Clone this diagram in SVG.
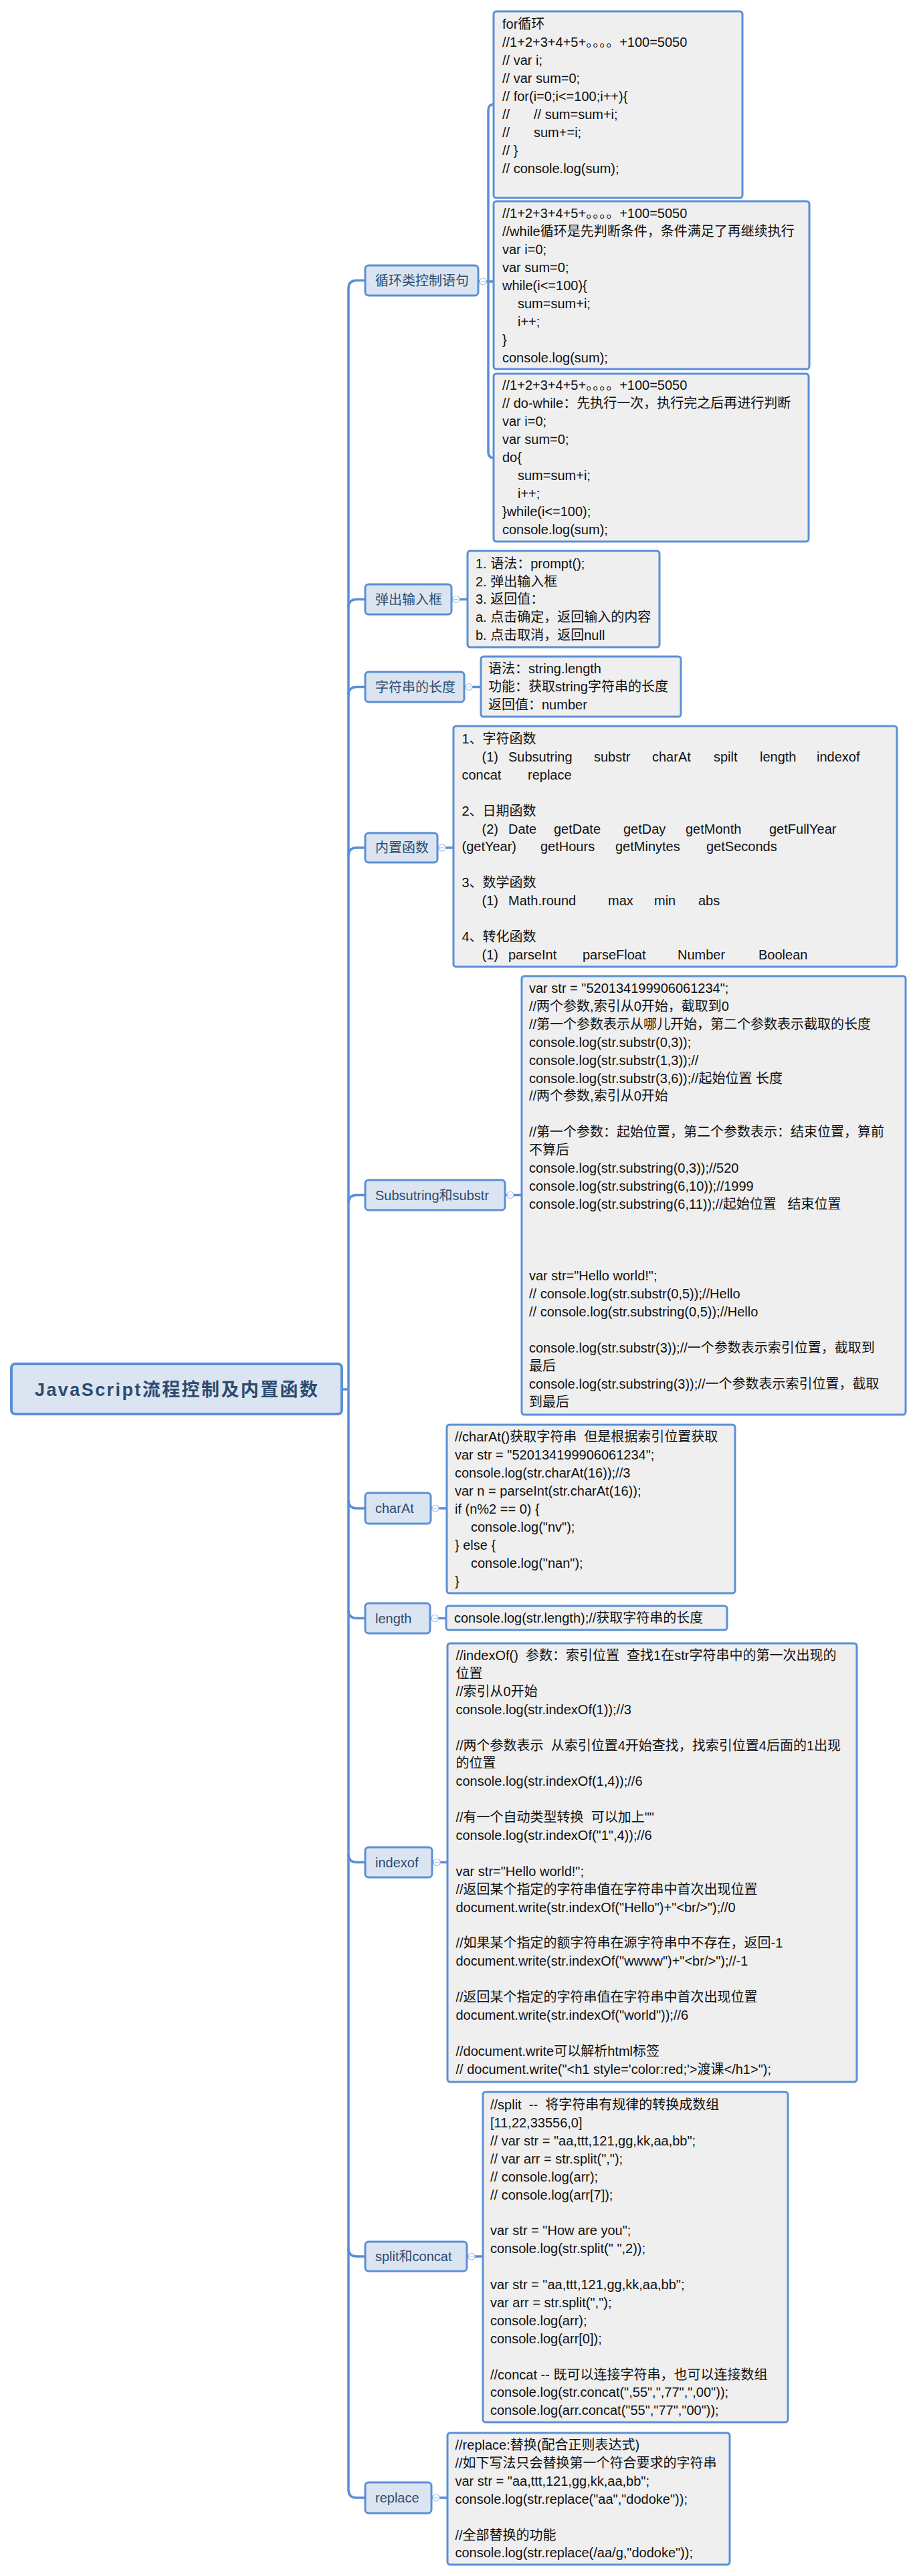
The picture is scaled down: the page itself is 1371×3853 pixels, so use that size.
<svg xmlns="http://www.w3.org/2000/svg" width="1371" height="3853" viewBox="0 0 1371 3853">
<style>
.bg{fill:#ffffff}
.box{fill:#efefef;stroke:#5b8fd6;stroke-width:3}
.nd{fill:#dbe5f1;stroke:#5b8fd6;stroke-width:3}
.root{fill:#dbe5f1;stroke:#5b8fd6;stroke-width:4}
.t{font-family:"Liberation Sans","Noto Sans CJK SC",sans-serif;font-size:20px;fill:#111111}
.nt{font-family:"Liberation Sans","Noto Sans CJK SC",sans-serif;font-size:20px;fill:#2d4b70}
.rt{font-family:"Liberation Sans","Noto Sans CJK SC",sans-serif;font-size:27px;font-weight:bold;fill:#2d4b70}
.conn{fill:none;stroke:#5b8fd6;stroke-width:3.5}
.col{fill:#ffffff;stroke:#a9c1e6;stroke-width:1.2}
.colm{stroke:#a9c1e6;stroke-width:1.2}
</style>
<rect class="bg" x="0" y="0" width="1371" height="3853"/>

<g id="connectors">
<path class="conn" d="M546,419.5 L533,419.5 Q521,419.5 521,431.5 L521,3724 Q521,3736 533,3736 L546,3736"/>
<path class="conn" d="M521,908.5 Q521,896.5 533,896.5 L546,896.5"/>
<path class="conn" d="M521,1039.5 Q521,1027.5 533,1027.5 L546,1027.5"/>
<path class="conn" d="M521,1280 Q521,1268 533,1268 L546,1268"/>
<path class="conn" d="M521,1799.5 Q521,1787.5 533,1787.5 L546,1787.5"/>
<path class="conn" d="M511,2078 L521,2078"/>
<path class="conn" d="M521,2244 Q521,2256 533,2256 L546,2256"/>
<path class="conn" d="M521,2408.5 Q521,2420.5 533,2420.5 L546,2420.5"/>
<path class="conn" d="M521,2773.5 Q521,2785.5 533,2785.5 L546,2785.5"/>
<path class="conn" d="M521,3363 Q521,3375 533,3375 L546,3375"/>
<path class="conn" d="M715,421 L738,421"/>
<path class="conn" d="M740,156 L738,156 Q730,156 730,166 L730,675 Q730,685 738,685 L740,685"/>
<path class="conn" d="M675,896.5 L699,896.5"/>
<path class="conn" d="M694,1027.5 L719,1027.5"/>
<path class="conn" d="M654,1268 L678,1268"/>
<path class="conn" d="M755,1787.5 L780,1787.5"/>
<path class="conn" d="M644,2256 L668,2256"/>
<path class="conn" d="M643,2420.5 L667,2420.5"/>
<path class="conn" d="M646,2785.5 L669,2785.5"/>
<path class="conn" d="M698,3375 L722,3375"/>
<path class="conn" d="M645,3736 L669,3736"/>
<g id="collapse-markers">
<circle class="col" cx="722" cy="421" r="5"/><line class="colm" x1="719" y1="421" x2="725" y2="421"/>
<circle class="col" cx="682" cy="896.5" r="5"/><line class="colm" x1="679" y1="896.5" x2="685" y2="896.5"/>
<circle class="col" cx="701" cy="1027.5" r="5"/><line class="colm" x1="698" y1="1027.5" x2="704" y2="1027.5"/>
<circle class="col" cx="661" cy="1268" r="5"/><line class="colm" x1="658" y1="1268" x2="664" y2="1268"/>
<circle class="col" cx="763" cy="1787.5" r="5"/><line class="colm" x1="760" y1="1787.5" x2="766" y2="1787.5"/>
<circle class="col" cx="651" cy="2256" r="5"/><line class="colm" x1="648" y1="2256" x2="654" y2="2256"/>
<circle class="col" cx="650" cy="2420.5" r="5"/><line class="colm" x1="647" y1="2420.5" x2="653" y2="2420.5"/>
<circle class="col" cx="653" cy="2785.5" r="5"/><line class="colm" x1="650" y1="2785.5" x2="656" y2="2785.5"/>
<circle class="col" cx="705" cy="3375" r="5"/><line class="colm" x1="702" y1="3375" x2="708" y2="3375"/>
<circle class="col" cx="652" cy="3736" r="5"/><line class="colm" x1="649" y1="3736" x2="655" y2="3736"/>
</g>
</g>

<g id="root">
<rect class="root" x="17" y="2040" width="494" height="75" rx="6"/>
<text class="rt" x="52" y="2088" textLength="423" lengthAdjust="spacing">JavaScript流程控制及内置函数</text>
</g>

<g id="node-loop">
<rect class="nd" x="546" y="397" width="169" height="45" rx="5"/>
<text class="nt" x="561" y="426.5">循环类控制语句</text>
</g>
<g id="box-for">
<rect class="box" x="738" y="17" width="372" height="279" rx="4"/>
<text class="t" xml:space="preserve"><tspan x="751" y="43">for循环</tspan><tspan x="751" y="70">//1+2+3+4+5+。。。。+100=5050</tspan><tspan x="751" y="97">// var i;</tspan><tspan x="751" y="124">// var sum=0;</tspan><tspan x="751" y="151">// for(i=0;i&lt;=100;i++){</tspan><tspan x="751" y="178">//</tspan><tspan x="798" y="178">// sum=sum+i;</tspan><tspan x="751" y="205">//</tspan><tspan x="798" y="205">sum+=i;</tspan><tspan x="751" y="232">// }</tspan><tspan x="751" y="259">// console.log(sum);</tspan></text>
</g>
<g id="box-while">
<rect class="box" x="738" y="301" width="472" height="251" rx="4"/>
<text class="t" xml:space="preserve"><tspan x="751" y="326">//1+2+3+4+5+。。。。+100=5050</tspan><tspan x="751" y="353">//while循环是先判断条件，条件满足了再继续执行</tspan><tspan x="751" y="380">var i=0;</tspan><tspan x="751" y="407">var sum=0;</tspan><tspan x="751" y="434">while(i&lt;=100){</tspan><tspan x="774" y="461">sum=sum+i;</tspan><tspan x="774" y="488">i++;</tspan><tspan x="751" y="515">}</tspan><tspan x="751" y="542">console.log(sum);</tspan></text>
</g>
<g id="box-dowhile">
<rect class="box" x="738" y="559" width="471" height="251" rx="4"/>
<text class="t" xml:space="preserve"><tspan x="751" y="582.5">//1+2+3+4+5+。。。。+100=5050</tspan><tspan x="751" y="609.5">// do-while：先执行一次，执行完之后再进行判断</tspan><tspan x="751" y="636.5">var i=0;</tspan><tspan x="751" y="663.5">var sum=0;</tspan><tspan x="751" y="690.5">do{</tspan><tspan x="774" y="717.5">sum=sum+i;</tspan><tspan x="774" y="744.5">i++;</tspan><tspan x="751" y="771.5">}while(i&lt;=100);</tspan><tspan x="751" y="798.5">console.log(sum);</tspan></text>
</g>

<g id="node-prompt">
<rect class="nd" x="546" y="874" width="129" height="45" rx="5"/>
<text class="nt" x="561" y="903.5">弹出输入框</text>
</g>
<g id="box-prompt">
<rect class="box" x="699" y="824" width="287" height="144" rx="4"/>
<text class="t"><tspan x="711" y="850">1. 语法：prompt();</tspan><tspan x="711" y="877">2. 弹出输入框</tspan><tspan x="711" y="903">3. 返回值：</tspan><tspan x="711" y="930">a. 点击确定，返回输入的内容</tspan><tspan x="711" y="957">b. 点击取消，返回null</tspan></text>
</g>

<g id="node-strlen">
<rect class="nd" x="546" y="1005" width="148" height="45" rx="5"/>
<text class="nt" x="561" y="1034.5">字符串的长度</text>
</g>
<g id="box-strlen">
<rect class="box" x="719" y="982" width="299" height="90" rx="4"/>
<text class="t"><tspan x="730" y="1007">语法：string.length</tspan><tspan x="730" y="1034">功能：获取string字符串的长度</tspan><tspan x="730" y="1061">返回值：number</tspan></text>
</g>

<g id="node-builtin">
<rect class="nd" x="546" y="1246" width="108" height="44" rx="5"/>
<text class="nt" x="561" y="1275">内置函数</text>
</g>
<g id="box-builtin">
<rect class="box" x="678" y="1086" width="663" height="360" rx="4"/>
<text class="t"><tspan x="690.5" y="1112">1、字符函数</tspan><tspan x="720.5" y="1138.9">(1)</tspan><tspan x="760" y="1138.9">Subsutring</tspan><tspan x="888" y="1138.9">substr</tspan><tspan x="975" y="1138.9">charAt</tspan><tspan x="1067" y="1138.9">spilt</tspan><tspan x="1136" y="1138.9">length</tspan><tspan x="1221" y="1138.9">indexof</tspan><tspan x="690.5" y="1165.8">concat</tspan><tspan x="789" y="1165.8">replace</tspan><tspan x="690.5" y="1219.6">2、日期函数</tspan><tspan x="720.5" y="1246.5">(2)</tspan><tspan x="760" y="1246.5">Date</tspan><tspan x="828" y="1246.5">getDate</tspan><tspan x="932" y="1246.5">getDay</tspan><tspan x="1025" y="1246.5">getMonth</tspan><tspan x="1150" y="1246.5">getFullYear</tspan><tspan x="690.5" y="1273.4">(getYear)</tspan><tspan x="808" y="1273.4">getHours</tspan><tspan x="920" y="1273.4">getMinytes</tspan><tspan x="1056" y="1273.4">getSeconds</tspan><tspan x="690.5" y="1327.2">3、数学函数</tspan><tspan x="720.5" y="1354.1">(1)</tspan><tspan x="760" y="1354.1">Math.round</tspan><tspan x="909" y="1354.1">max</tspan><tspan x="978" y="1354.1">min</tspan><tspan x="1044" y="1354.1">abs</tspan><tspan x="690.5" y="1407.9">4、转化函数</tspan><tspan x="720.5" y="1434.8">(1)</tspan><tspan x="760" y="1434.8">parseInt</tspan><tspan x="871" y="1434.8">parseFloat</tspan><tspan x="1013" y="1434.8">Number</tspan><tspan x="1134" y="1434.8">Boolean</tspan></text>
</g>

<g id="node-substr">
<rect class="nd" x="546" y="1765" width="209" height="45" rx="5"/>
<text class="nt" x="561" y="1794.5">Subsutring和substr</text>
</g>
<g id="box-substr">
<rect class="box" x="780" y="1460" width="574" height="656" rx="4"/>
<text class="t" xml:space="preserve"><tspan x="791" y="1485">var str = "520134199906061234";</tspan><tspan x="791" y="1511.9">//两个参数,索引从0开始，截取到0</tspan><tspan x="791" y="1538.8">//第一个参数表示从哪儿开始，第二个参数表示截取的长度</tspan><tspan x="791" y="1565.7">console.log(str.substr(0,3));</tspan><tspan x="791" y="1592.6">console.log(str.substr(1,3));//</tspan><tspan x="791" y="1619.5">console.log(str.substr(3,6));//起始位置 长度</tspan><tspan x="791" y="1646.4">//两个参数,索引从0开始</tspan><tspan x="791" y="1700.2">//第一个参数：起始位置，第二个参数表示：结束位置，算前</tspan><tspan x="791" y="1727.1">不算后</tspan><tspan x="791" y="1754">console.log(str.substring(0,3));//520</tspan><tspan x="791" y="1780.9">console.log(str.substring(6,10));//1999</tspan><tspan x="791" y="1807.8">console.log(str.substring(6,11));//起始位置   结束位置</tspan><tspan x="791" y="1915.4">var str="Hello world!";</tspan><tspan x="791" y="1942.3">// console.log(str.substr(0,5));//Hello</tspan><tspan x="791" y="1969.2">// console.log(str.substring(0,5));//Hello</tspan><tspan x="791" y="2023">console.log(str.substr(3));//一个参数表示索引位置，截取到</tspan><tspan x="791" y="2049.9">最后</tspan><tspan x="791" y="2076.8">console.log(str.substring(3));//一个参数表示索引位置，截取</tspan><tspan x="791" y="2103.7">到最后</tspan></text>
</g>

<g id="node-charat">
<rect class="nd" x="546" y="2233" width="98" height="46" rx="5"/>
<text class="nt" x="561" y="2263">charAt</text>
</g>
<g id="box-charat">
<rect class="box" x="668" y="2131" width="431" height="252" rx="4"/>
<text class="t" xml:space="preserve"><tspan x="680" y="2156">//charAt()获取字符串  但是根据索引位置获取</tspan><tspan x="680" y="2183">var str = "520134199906061234";</tspan><tspan x="680" y="2210">console.log(str.charAt(16));//3</tspan><tspan x="680" y="2237">var n = parseInt(str.charAt(16));</tspan><tspan x="680" y="2264">if (n%2 == 0) {</tspan><tspan x="704" y="2291">console.log("nv");</tspan><tspan x="680" y="2318">} else {</tspan><tspan x="704" y="2345">console.log("nan");</tspan><tspan x="680" y="2372">}</tspan></text>
</g>

<g id="node-length">
<rect class="nd" x="546" y="2398" width="97" height="45" rx="5"/>
<text class="nt" x="561" y="2427.5">length</text>
</g>
<g id="box-length">
<rect class="box" x="667" y="2402" width="420" height="36" rx="4"/>
<text class="t" x="679" y="2427">console.log(str.length);//获取字符串的长度</text>
</g>

<g id="node-indexof">
<rect class="nd" x="546" y="2763" width="100" height="45" rx="5"/>
<text class="nt" x="561" y="2792.5">indexof</text>
</g>
<g id="box-indexof">
<rect class="box" x="669" y="2458" width="612" height="656" rx="4"/>
<text class="t" xml:space="preserve"><tspan x="681.5" y="2483">//indexOf()  参数：索引位置  查找1在str字符串中的第一次出现的</tspan><tspan x="681.5" y="2509.9">位置</tspan><tspan x="681.5" y="2536.8">//索引从0开始</tspan><tspan x="681.5" y="2563.7">console.log(str.indexOf(1));//3</tspan><tspan x="681.5" y="2617.5">//两个参数表示  从索引位置4开始查找，找索引位置4后面的1出现</tspan><tspan x="681.5" y="2644.4">的位置</tspan><tspan x="681.5" y="2671.3">console.log(str.indexOf(1,4));//6</tspan><tspan x="681.5" y="2725.1">//有一个自动类型转换  可以加上""</tspan><tspan x="681.5" y="2752">console.log(str.indexOf("1",4));//6</tspan><tspan x="681.5" y="2805.8">var str="Hello world!";</tspan><tspan x="681.5" y="2832.7">//返回某个指定的字符串值在字符串中首次出现位置</tspan><tspan x="681.5" y="2859.6">document.write(str.indexOf("Hello")+"&lt;br/&gt;");//0</tspan><tspan x="681.5" y="2913.4">//如果某个指定的额字符串在源字符串中不存在，返回-1</tspan><tspan x="681.5" y="2940.3">document.write(str.indexOf("wwww")+"&lt;br/&gt;");//-1</tspan><tspan x="681.5" y="2994.1">//返回某个指定的字符串值在字符串中首次出现位置</tspan><tspan x="681.5" y="3021">document.write(str.indexOf("world"));//6</tspan><tspan x="681.5" y="3074.8">//document.write可以解析html标签</tspan><tspan x="681.5" y="3101.7">// document.write("&lt;h1 style='color:red;'&gt;渡课&lt;/h1&gt;");</tspan></text>
</g>

<g id="node-split">
<rect class="nd" x="546" y="3353" width="152" height="44" rx="5"/>
<text class="nt" x="561" y="3382">split和concat</text>
</g>
<g id="box-split">
<rect class="box" x="722" y="3129" width="456" height="494" rx="4"/>
<text class="t" xml:space="preserve"><tspan x="733" y="3155">//split  --  将字符串有规律的转换成数组</tspan><tspan x="733" y="3181.9">[11,22,33556,0]</tspan><tspan x="733" y="3208.8">// var str = "aa,ttt,121,gg,kk,aa,bb";</tspan><tspan x="733" y="3235.7">// var arr = str.split(",");</tspan><tspan x="733" y="3262.6">// console.log(arr);</tspan><tspan x="733" y="3289.5">// console.log(arr[7]);</tspan><tspan x="733" y="3343.3">var str = "How are you";</tspan><tspan x="733" y="3370.2">console.log(str.split(" ",2));</tspan><tspan x="733" y="3424">var str = "aa,ttt,121,gg,kk,aa,bb";</tspan><tspan x="733" y="3450.9">var arr = str.split(",");</tspan><tspan x="733" y="3477.8">console.log(arr);</tspan><tspan x="733" y="3504.7">console.log(arr[0]);</tspan><tspan x="733" y="3558.5">//concat -- 既可以连接字符串，也可以连接数组</tspan><tspan x="733" y="3585.4">console.log(str.concat(",55",",77",",00"));</tspan><tspan x="733" y="3612.3">console.log(arr.concat("55","77","00"));</tspan></text>
</g>

<g id="node-replace">
<rect class="nd" x="546" y="3713" width="99" height="46" rx="5"/>
<text class="nt" x="561" y="3743">replace</text>
</g>
<g id="box-replace">
<rect class="box" x="669" y="3639" width="422" height="197" rx="4"/>
<text class="t"><tspan x="680.5" y="3664">//replace:替换(配合正则表达式)</tspan><tspan x="680.5" y="3690.9">//如下写法只会替换第一个符合要求的字符串</tspan><tspan x="680.5" y="3717.8">var str = "aa,ttt,121,gg,kk,aa,bb";</tspan><tspan x="680.5" y="3744.7">console.log(str.replace("aa","dodoke"));</tspan><tspan x="680.5" y="3798.5">//全部替换的功能</tspan><tspan x="680.5" y="3825.4">console.log(str.replace(/aa/g,"dodoke"));</tspan></text>
</g>
</svg>
